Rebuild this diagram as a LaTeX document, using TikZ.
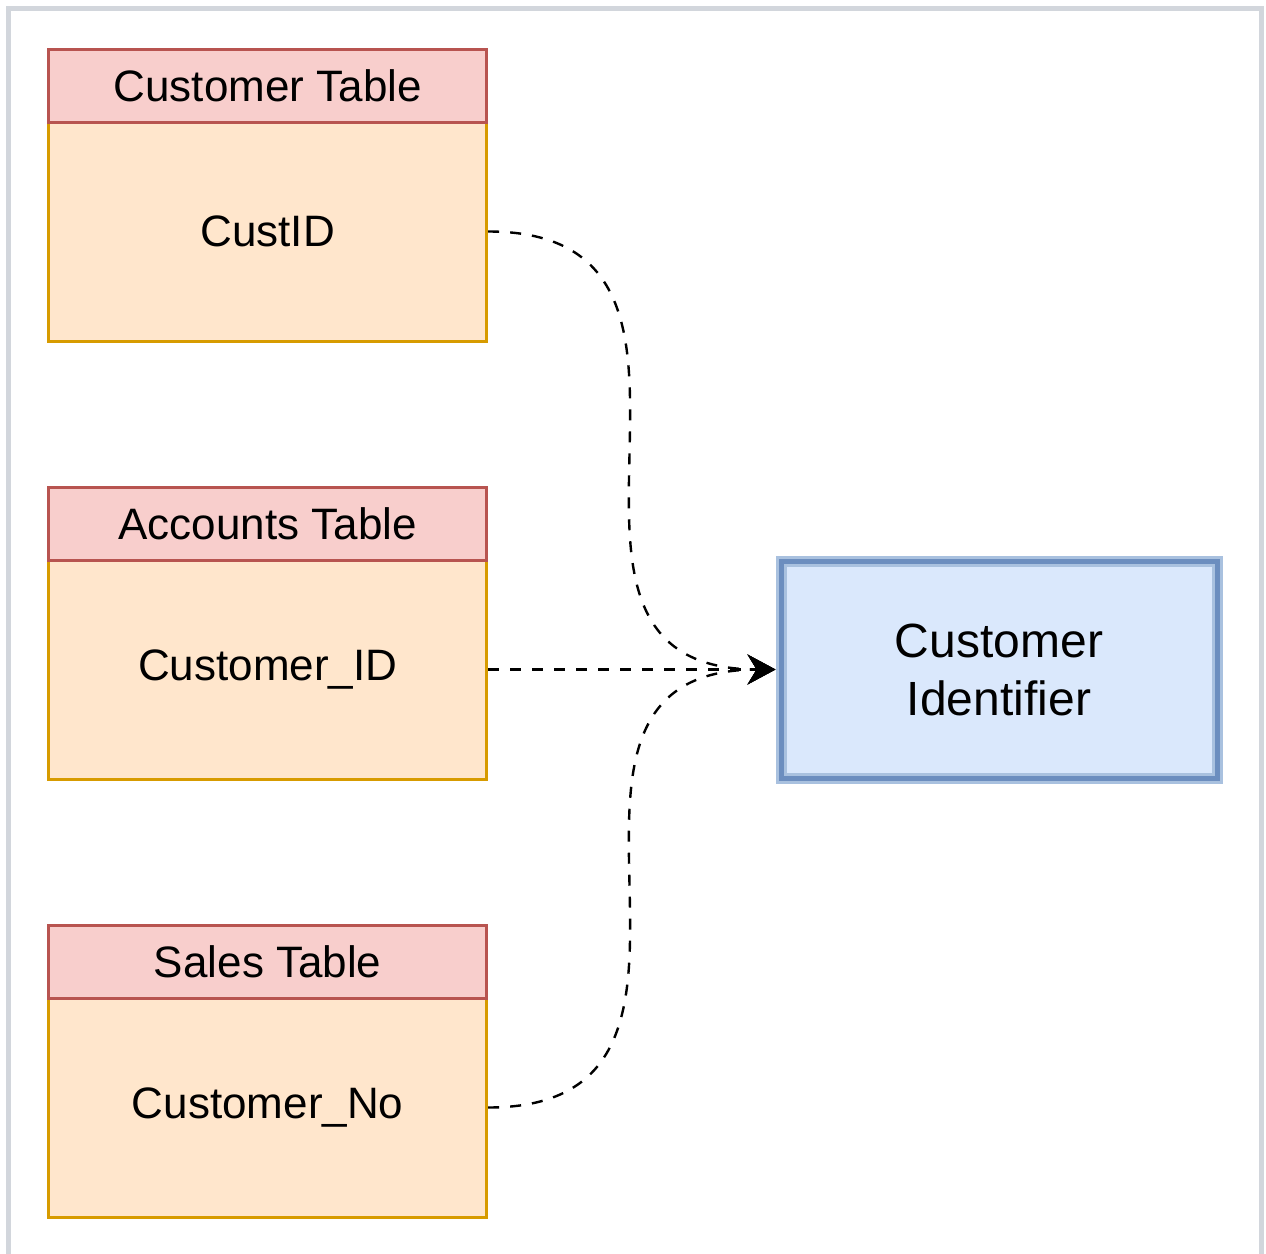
\documentclass[tikz,border=0pt]{standalone}
\usepackage{fontspec}
\setmainfont{Liberation Sans}
\usetikzlibrary{arrows.meta}
\definecolor{headfill}{HTML}{F8CECC}
\definecolor{headline}{HTML}{B85450}
\definecolor{bodyfill}{HTML}{FFE6CC}
\definecolor{bodyline}{HTML}{D79B00}
\definecolor{idfill}{HTML}{DAE8FC}
\definecolor{idline}{HTML}{6C8EBF}
\definecolor{idglow}{HTML}{A9C1DF}
\definecolor{framegray}{HTML}{D2D6DC}
\begin{document}
\begin{tikzpicture}[x=0.5pt, y=-0.5pt,
    every node/.style={font=\fontsize{22}{29}\selectfont, inner sep=0pt},
    tablehead/.style={draw=headline, fill=headfill, line width=1.5pt, minimum width=219pt, minimum height=36.5pt},
    tablebody/.style={draw=bodyline, fill=bodyfill, line width=1.5pt, minimum width=219pt, minimum height=109.5pt},
    idbox/.style={draw=idglow, fill=idfill, line width=5.5pt, minimum width=218pt, minimum height=108.5pt, align=center,
      font=\fontsize{24}{29}\selectfont, postaction={draw=idline, line width=2.5pt}},
    link/.style={-{Stealth[length=14pt,width=15pt]}, line width=1.2pt, dash pattern=on 5.5pt off 5.5pt}]
      \useasboundingbox (0,0) rectangle (1266,1254);
      \draw[framegray, line width=2.5pt] (8.5,8.5) rectangle (1261.5,1290);

      % tables: body first, so the red header line stays on top
      \node[tablebody] (custbody) at (267.7, 231.5) {CustID};
      \node[tablehead] (custhead) at (267.7, 85.5) {Customer Table};
      \node[tablebody] (acctbody) at (267.7, 669.5) {Customer\_ID};
      \node[tablehead] (accthead) at (267.7, 523.5) {Accounts Table};
      \node[tablebody] (salesbody) at (267.7, 1107.5) {Customer\_No};
      \node[tablehead] (saleshead) at (267.7, 961.5) {Sales Table};

      \node[idbox] (ident) at (999, 669.5) {Customer\\Identifier};

      \draw[link] (custbody.east) .. controls +(288,0) and +(-288,0) .. (ident.west);
      \draw[link] (acctbody.east) -- (ident.west);
      \draw[link] (salesbody.east) .. controls +(288,0) and +(-288,0) .. (ident.west);
    \end{tikzpicture}
\end{document}
